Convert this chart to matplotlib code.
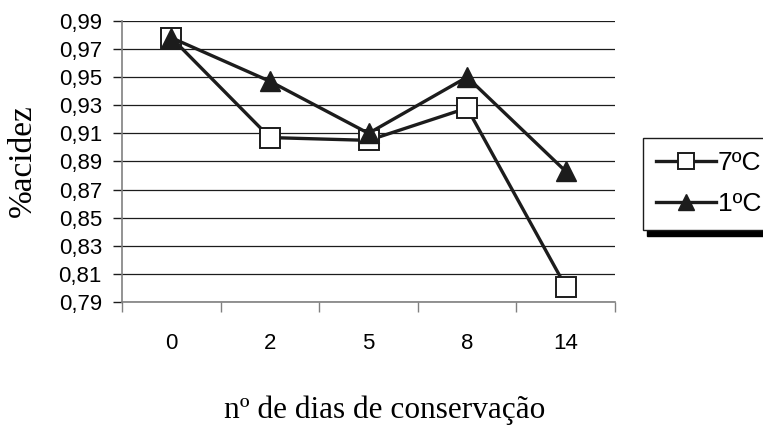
import numpy as np
from matplotlib import pyplot as plt

# dias de conservação e % de acidez para cada temperatura
dias = ['0', '2', '5', '8', '14']
acidez_7c = [0.978, 0.907, 0.905, 0.928, 0.801]
acidez_1c = [0.978, 0.947, 0.910, 0.950, 0.883]
y_ticks = [0.79, 0.81, 0.83, 0.85, 0.87, 0.89, 0.91, 0.93, 0.95, 0.97, 0.99]

SANS = 'Liberation Sans'
SERIF = 'Liberation Serif'
INK = '#1c1c1c'

fig = plt.figure(figsize=(7.63, 4.26), dpi=100)
ax = fig.add_axes([0.160, 0.291, 0.646, 0.660])

x = np.arange(len(dias))
ax.plot(x, acidez_7c, color=INK, lw=2.4, marker='s', ms=14.5,
        mfc='white', mec=INK, mew=1.4, label='7ºC', zorder=3)
ax.plot(x, acidez_1c, color=INK, lw=2.4, marker='^', ms=15,
        mfc=INK, mec=INK, label='1ºC', zorder=4)

ax.set_xlim(-0.5, len(dias) - 0.5)
ax.set_ylim(0.79, 0.99)

# category boundaries get the tick marks, centres get the labels
ax.set_xticks(np.arange(len(dias) + 1) - 0.5)
ax.set_xticklabels([])
ax.set_xticks(x, minor=True)
ax.set_xticklabels(dias, minor=True, fontsize=16, family=SANS)
ax.tick_params(axis='x', which='major', length=7, width=1, color='#808080',
               direction='out')
ax.tick_params(axis='x', which='minor', length=0, pad=22)

ax.set_yticks(y_ticks)
ax.set_yticklabels([f'{v:.2f}'.replace('.', ',') for v in y_ticks],
                   fontsize=16, family=SANS)
ax.tick_params(axis='y', length=6.5, width=1, color=INK, pad=8)

ax.grid(axis='y', color=INK, lw=0.9)
ax.set_axisbelow(True)
for side in ('top', 'right'):
    ax.spines[side].set_visible(False)
for side in ('left', 'bottom'):
    ax.spines[side].set_color('#808080')
    ax.spines[side].set_linewidth(1.2)

fig.text(0.029, 0.624, '%acidez', rotation=90, ha='center', va='center',
         fontsize=24, family=SERIF)
fig.text(0.504, 0.018, 'nº de dias de conservação', ha='center',
         va='baseline', fontsize=22.5, family=SERIF)

leg = ax.legend(loc='upper left', bbox_to_anchor=(643 / 763, 1 - 138 / 426),
                bbox_transform=fig.transFigure, frameon=True, fancybox=False,
                shadow={'color': 'black', 'alpha': 1.0, 'ox': 3, 'oy': -5},
                handlelength=2.25, handletextpad=0.08, labelspacing=0.65,
                borderpad=0.5, borderaxespad=0,
                prop={'family': SANS, 'size': 19})
leg.get_frame().set_edgecolor(INK)
leg.get_frame().set_linewidth(1.0)
for h in leg.legend_handles:
    h.set_markersize(11)

fig.savefig('out.png', dpi=100)
